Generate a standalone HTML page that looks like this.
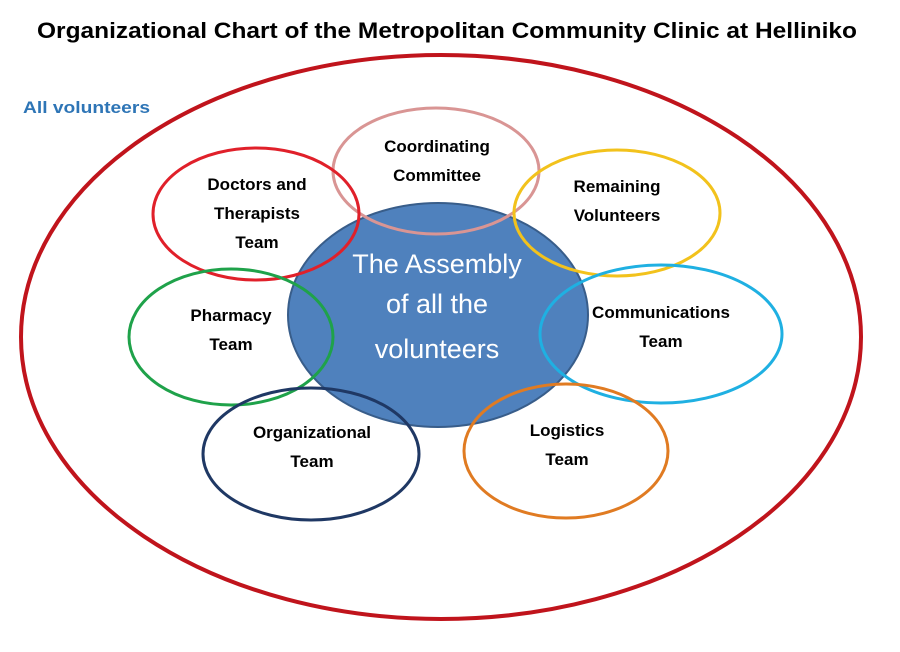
<!DOCTYPE html>
<html><head><meta charset="utf-8"><style>
html,body{margin:0;padding:0;background:#fff;width:900px;height:652px;overflow:hidden}
svg text{font-family:"Liberation Sans",sans-serif}
</style></head><body>
<svg width="900" height="652" viewBox="0 0 900 652" xmlns="http://www.w3.org/2000/svg">
<text x="447" y="38" text-anchor="middle" font-size="22" font-weight="bold" textLength="820" lengthAdjust="spacingAndGlyphs">Organizational Chart of the Metropolitan Community Clinic at Helliniko</text>
<ellipse cx="441" cy="337" rx="420" ry="282" fill="none" stroke="#c0141c" stroke-width="4"/>
<text x="23" y="113" font-size="17" font-weight="bold" fill="#2e75b6" textLength="127" lengthAdjust="spacingAndGlyphs">All volunteers</text>
<ellipse cx="438" cy="315" rx="150" ry="112" fill="#4f81bd" stroke="#385d8a" stroke-width="2"/>
<g fill="none" stroke-width="3">
<ellipse cx="436" cy="171" rx="103" ry="63" stroke="#d99594"/>
<ellipse cx="256" cy="214" rx="103" ry="66" stroke="#e0202a"/>
<ellipse cx="617" cy="213" rx="103" ry="63" stroke="#f2c21c"/>
<ellipse cx="231" cy="337" rx="102" ry="68" stroke="#1fa24a"/>
<ellipse cx="661" cy="334" rx="121" ry="69" stroke="#1fb0e2"/>
<ellipse cx="311" cy="454" rx="108" ry="66" stroke="#1f3864"/>
<ellipse cx="566" cy="451" rx="102" ry="67" stroke="#e07b22"/>
</g>
<g fill="#fff" font-size="27" text-anchor="middle">
<text x="437" y="273">The Assembly</text>
<text x="437" y="313">of all the</text>
<text x="437" y="358">volunteers</text>
</g>
<g font-size="17" font-weight="bold" text-anchor="middle" fill="#000">
<text x="437" y="152">Coordinating</text>
<text x="437" y="181">Committee</text>
<text x="257" y="190">Doctors and</text>
<text x="257" y="219">Therapists</text>
<text x="257" y="248">Team</text>
<text x="617" y="192">Remaining</text>
<text x="617" y="221">Volunteers</text>
<text x="231" y="321">Pharmacy</text>
<text x="231" y="350">Team</text>
<text x="661" y="318">Communications</text>
<text x="661" y="347">Team</text>
<text x="312" y="438">Organizational</text>
<text x="312" y="467">Team</text>
<text x="567" y="436">Logistics</text>
<text x="567" y="465">Team</text>
</g>
</svg>
</body></html>
